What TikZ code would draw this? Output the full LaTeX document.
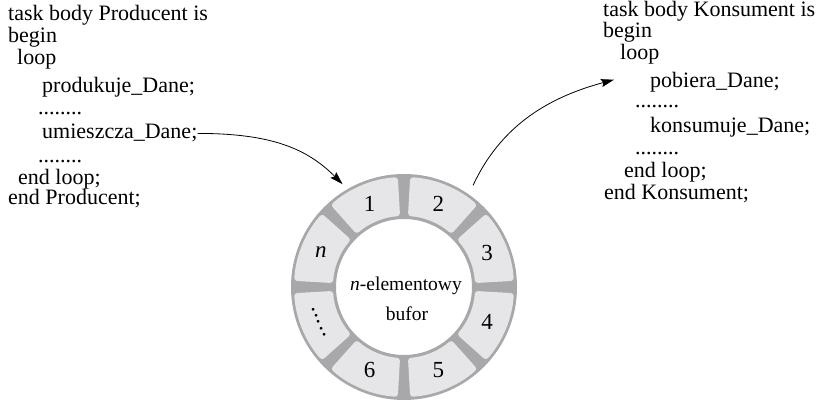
\documentclass[tikz,border=0pt]{standalone}
\usepackage{fontspec}
\setmainfont{Liberation Serif}
\usetikzlibrary{arrows.meta}
\definecolor{ringgray}{RGB}{168,168,170}
\definecolor{cellgray}{RGB}{230,230,232}
\begin{document}
\begin{tikzpicture}[x=1pt,y=1pt,
  code/.style={anchor=base west, inner sep=0pt, font=\fontsize{22}{22}\selectfont},
  num/.style={inner sep=0pt, font=\fontsize{23}{23}\selectfont},
  arr/.style={line width=0.8pt, -{Stealth[length=13pt,width=8pt,inset=2pt]}},
  midtext/.style={anchor=base, inner sep=0pt, font=\fontsize{19.5}{20}\selectfont}]
\useasboundingbox (0,0) rectangle (816,402);

% Producer code
\node[code] (p1) at (8,381) {task body Producent is};
\node[code] (p2) at (8,359) {begin};
\node[code] (p3) at (17,337) {loop};
\node[code] (p4) at (42,309) {produkuje\_Dane;};
\node[code] (p5) at (38,287) {........};
\node[code] (p6) at (42,263) {umieszcza\_Dane;};
\node[code] (p7) at (38,239) {........};
\node[code] (p8) at (18,217) {end loop;};
\node[code] (p9) at (8,197) {end Producent;};

% Consumer code
\node[code] (k1) at (603,385) {task body Konsument is};
\node[code] (k2) at (603,364) {begin};
\node[code] (k3) at (620,342) {loop};
\node[code] (k4) at (650,314) {pobiera\_Dane;};
\node[code] (k5) at (635,294) {........};
\node[code] (k6) at (650,269) {konsumuje\_Dane;};
\node[code] (k7) at (635,247) {........};
\node[code] (k8) at (624,224) {end loop;};
\node[code] (k9) at (604,202) {end Konsument;};

% Ring buffer
\begin{scope}[shift={(404,115)}]
  \fill[ringgray, even odd rule] (0,0) circle (113) (0,0) circle (68);
  \foreach \k in {0,...,7}{
    \pgfmathsetmacro\a{45*\k+3.2}
    \pgfmathsetmacro\b{45*\k+45-3.2}
    \fill[cellgray, rounded corners=3pt] (\a:71) arc[start angle=\a, end angle=\b, radius=71]
      -- (\b:110) arc[start angle=\b, end angle=\a, radius=110] -- cycle;
  }
  \node[circle, minimum size=226pt, inner sep=0pt, outer sep=0pt] (ring) at (0,0) {};
  \node[num] (c1) at (112.5:90) {1};
  \node[num] (c2) at (67.5:90) {2};
  \node[num] (c3) at (22.5:90) {3};
  \node[num] (c4) at (-22.5:90) {4};
  \node[num] (c5) at (-67.5:90) {5};
  \node[num] (c6) at (-112.5:90) {6};
  \node[num, rotate=-67.5] (cd) at (-157.5:92) {.\kern1.2pt.\kern1.2pt.\kern1.2pt.\kern1.2pt.};
  \node[num] (cn) at (157.5:90) {\textit{n}};
  \node[midtext] (t1) at (2,-3) {\textit{n}-elementowy};
  \node[midtext] (t2) at (3,-33) {bufor};
\end{scope}

% Arrows
\draw[arr, shorten >=7pt] (p6.east) .. controls +(75,0) and +(-40,40) .. (ring.120);
\draw[arr, shorten <=10pt] (ring.55) to[out=65, in=195] ([xshift=-36pt,yshift=3pt]k4.west);
\end{tikzpicture}
\end{document}
